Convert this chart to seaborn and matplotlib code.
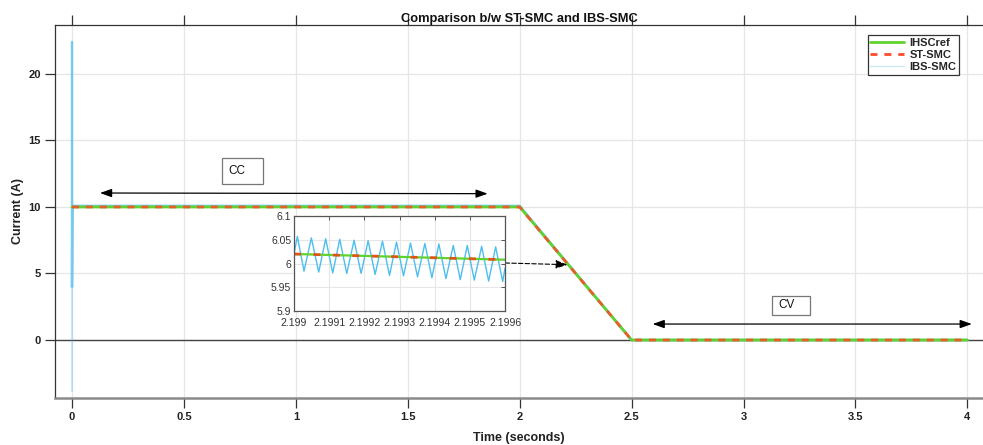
import numpy as np
import pandas as pd
import matplotlib
matplotlib.use("Agg")
import matplotlib.pyplot as plt
import seaborn as sns
from matplotlib.lines import Line2D
from matplotlib.patches import Rectangle

# ---------------- data ----------------
ref_t = [0.0, 2.0, 2.5, 4.0]
ref_i = [10.0, 10.0, 0.0, 0.0]

st_t = [0.0, 2.0, 2.5, 4.0]
st_i = [10.0, 10.0, 0.0, 0.0]

ibs_t = [0.0, 0.0, 0.002, 2.0, 2.5, 4.0]
ibs_i = [22.4, 4.0, 10.08, 10.08, 0.0, 0.0]
ibs_faint_t = [0.0, 0.0]
ibs_faint_i = [4.0, -3.8]

zoom_ref_t = [2.1990, 2.1996]
zoom_ref_i = [6.020, 6.008]
zoom_st_t = [2.1990, 2.1996]
zoom_st_i = [6.020, 6.008]

zoom_ibs_t = [2.1990000, 2.1990095, 2.1990285, 2.1990494, 2.1990703, 2.1990902,
              2.1991101, 2.1991301, 2.1991500, 2.1991709, 2.1991908, 2.1992108,
              2.1992307, 2.1992516, 2.1992715, 2.1992915, 2.1993114, 2.1993313,
              2.1993513, 2.1993722, 2.1993921, 2.1994120, 2.1994320, 2.1994529,
              2.1994728, 2.1994927, 2.1995127, 2.1995336, 2.1995535, 2.1995734,
              2.1995934, 2.1996000]
zoom_ibs_i = [6.020, 6.057, 5.984, 6.054, 5.982, 6.052,
              5.980, 6.051, 5.979, 6.049, 5.979, 6.048,
              5.977, 6.047, 5.975, 6.045, 5.974, 6.043,
              5.972, 6.042, 5.970, 6.041, 5.968, 6.038,
              5.966, 6.038, 5.965, 6.036, 5.963, 6.035,
              5.962, 5.990]

xticks = [0, 0.5, 1, 1.5, 2, 2.5, 3, 3.5, 4]
xtick_labels = ["0", "0.5", "1", "1.5", "2", "2.5", "3", "3.5", "4"]
yticks = [0, 5, 10, 15, 20]
ytick_labels = ["0", "5", "10", "15", "20"]
inset_xticks = [2.199, 2.1991, 2.1992, 2.1993, 2.1994, 2.1995, 2.1996]
inset_xtick_labels = ["2.199", "2.1991", "2.1992", "2.1993", "2.1994", "2.1995", "2.1996"]
inset_yticks = [5.9, 5.95, 6.0, 6.05, 6.1]
inset_ytick_labels = ["5.9", "5.95", "6", "6.05", "6.1"]

series_names = ["IHSCref", "ST-SMC", "IBS-SMC"]

# ---------------- style ----------------
sns.set_style("white")
plt.rcParams["font.family"] = ["Liberation Sans", "DejaVu Sans"]

GREEN = "#5fd22e"
RED = "#ff4a2a"
BLUE = "#4dbeee"
BLUE_FAINT = "#cfeaf7"
GRID = "#e6e6e6"
DARK = "#333333"

W, H = 983, 445
fig = plt.figure(figsize=(W / 100, H / 100), dpi=100)

def fx(px):
    return px / W

def fy(py):
    return 1 - py / H

ax = fig.add_axes([fx(55), fy(398), fx(983) - fx(55), fy(25) - fy(398)])
ax.set_xlim(-0.076, 4.07)
ax.set_ylim(-4.36, 23.68)

ax.set_xticks(xticks)
ax.set_xticklabels(xtick_labels)
ax.set_yticks(yticks)
ax.set_yticklabels(ytick_labels)
ax.grid(True, color=GRID, lw=0.9)
ax.set_axisbelow(True)

ax.axhline(0, color="#444444", lw=1.0, zorder=1)

# faint part of IBS spike
sns.lineplot(x=ibs_faint_t, y=ibs_faint_i, ax=ax, color=BLUE, alpha=0.3,
             linewidth=1.5, estimator=None, sort=False, zorder=2)
sns.lineplot(x=ibs_t, y=ibs_i, ax=ax, color=BLUE, alpha=0.75,
             linewidth=1.8, estimator=None, sort=False, zorder=2)
sns.lineplot(x=ref_t, y=ref_i, ax=ax, color=GREEN, linewidth=2.0,
             estimator=None, sort=False, zorder=3)
sns.lineplot(x=st_t, y=st_i, ax=ax, color=RED, linewidth=2.0,
             estimator=None, sort=False, zorder=4)
ax.lines[-1].set_dashes([2.5, 2.5])
ax.lines[-1].set_alpha(0.85)

for s in ["left", "top"]:
    ax.spines[s].set_color(DARK)
    ax.spines[s].set_linewidth(0.9)
ax.spines["bottom"].set_color("#8a8a8a")
ax.spines["bottom"].set_linewidth(1.8)
ax.spines["right"].set_visible(False)

ax.tick_params(axis="both", direction="out", length=7, width=0.9, color=DARK,
               labelsize=8, labelcolor="#222222", top=True, left=True, bottom=True,
               pad=3)
for lab in ax.get_xticklabels() + ax.get_yticklabels():
    lab.set_fontweight("bold")

ax.set_title("Comparison b/w ST-SMC and IBS-SMC", fontsize=9.3, fontweight="bold",
             pad=2, color="#111111")
ax.set_xlabel("Time (seconds)", fontsize=9, fontweight="bold", labelpad=7,
              color="#222222")
ax.set_ylabel("Current (A)", fontsize=9, fontweight="bold",
              color="#222222")
ax.yaxis.set_label_coords(-0.0334, 0.5)

# legend
handles = [
    Line2D([], [], color=GREEN, lw=2.0),
    Line2D([], [], color=RED, lw=2.0, dashes=[2.5, 2.5]),
    Line2D([], [], color=BLUE_FAINT, lw=1.0),
]
leg = ax.legend(handles, series_names, loc="upper right",
                bbox_to_anchor=(fx(959), fy(35)), bbox_transform=fig.transFigure,
                borderaxespad=0, fancybox=False, frameon=True, framealpha=1,
                edgecolor="#333333", handlelength=3.0,
                handletextpad=0.5, labelspacing=0.2, borderpad=0.25,
                prop={"weight": "bold", "size": 8})
leg.get_frame().set_linewidth(0.9)

# CC / CV annotations
arrow_kw = dict(arrowstyle="<|-|>,head_length=0.7,head_width=0.25",
                color="black", lw=0.9, shrinkA=0, shrinkB=0)
ax.annotate("", xy=(0.125, 11.05), xytext=(1.857, 11.0), arrowprops=arrow_kw,
            zorder=6)
ax.add_patch(Rectangle((0.670, 11.73), 0.183, 1.95, fc="white", ec="#777777",
                       lw=0.9, zorder=6))
ax.text(0.697, 12.7, "CC", fontsize=8.5, ha="left", va="center", color="#111111",
        zorder=7)

ax.annotate("", xy=(2.594, 1.2), xytext=(4.02, 1.2), arrowprops=arrow_kw,
            zorder=6)
ax.add_patch(Rectangle((3.129, 1.88), 0.166, 1.43, fc="white", ec="#777777",
                       lw=0.9, zorder=6))
ax.text(3.156, 2.6, "CV", fontsize=8.5, ha="left", va="center", color="#111111",
        zorder=7)

# arrow from inset to ramp
ax.annotate("", xy=(2.214, 5.66), xytext=(1.935, 5.79),
            arrowprops=dict(arrowstyle="-|>,head_length=0.7,head_width=0.25",
                            color="black", lw=0.8, linestyle=(0, (4, 2)),
                            shrinkA=0, shrinkB=0), zorder=6)

# ---------------- inset ----------------
axi = fig.add_axes([fx(294), fy(311), fx(505) - fx(294), fy(216) - fy(311)])
axi.set_facecolor("white")
sns.lineplot(x=zoom_ibs_t, y=zoom_ibs_i, ax=axi, color=BLUE, linewidth=1.0,
             estimator=None, sort=False)
sns.lineplot(x=zoom_ref_t, y=zoom_ref_i, ax=axi, color=GREEN, linewidth=1.6,
             estimator=None, sort=False)
sns.lineplot(x=zoom_st_t, y=zoom_st_i, ax=axi, color="#e0541c", linewidth=2.0,
             estimator=None, sort=False)
axi.lines[-1].set_dashes([2.5, 4.5])
axi.set_xlim(2.199, 2.1996)
axi.set_ylim(5.9, 6.1)
axi.set_xticks(inset_xticks)
axi.set_xticklabels(inset_xtick_labels)
axi.set_yticks(inset_yticks)
axi.set_yticklabels(inset_ytick_labels)
axi.grid(True, color=GRID, lw=0.8)
axi.set_axisbelow(True)
axi.tick_params(direction="in", length=3, width=0.7, color="#555555",
                labelsize=7.5, labelcolor="#333333", top=True, right=True, pad=2)
axi.tick_params(axis="x", pad=5)
for s in axi.spines.values():
    s.set_color("#555555")
    s.set_linewidth(0.9)
axi.set_xlabel("")
axi.set_ylabel("")

fig.savefig("out.png", dpi=100, facecolor="white")
